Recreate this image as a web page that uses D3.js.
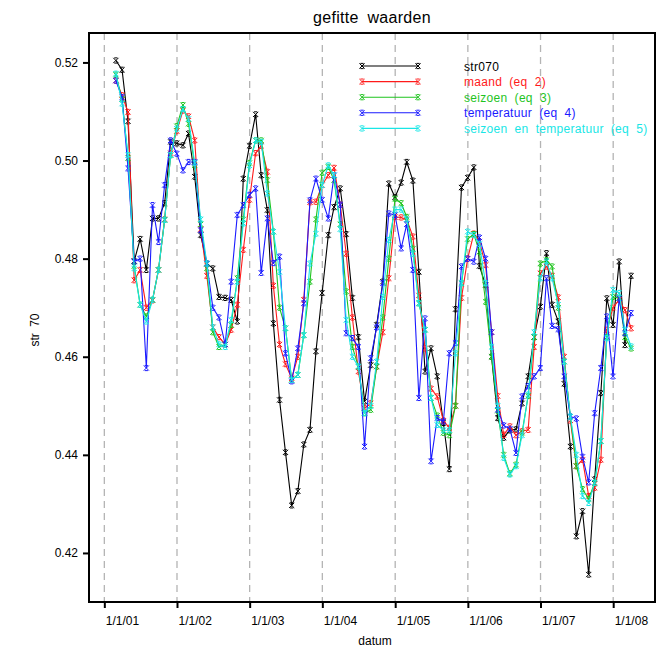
<!DOCTYPE html>
<html>
<head>
<meta charset="utf-8">
<script src="https://cdn.jsdelivr.net/npm/d3@7"></script>
<style>
    body { margin: 0; background: #fff; }
    svg { display: block; font-family: "Liberation Sans", Arial, sans-serif; }
</style>
</head>
<body>
<svg id="chart" width="659" height="653"></svg>
<script>
// Monthly values (end of month), Feb 2001 .. Mar 2008
const firstMonth = new Date(2001, 2, 1), // month after the first value
    lastMonth = new Date(2008, 4, 1);

const str070 = [
    .5204, .5185, .5080, .4795, .4840, .4777, .4882, .4882, .4913, .5038, .5035,
    .5031, .5055, .4967, .4848, .4790, .4780, .4722, .4720, .4716, .4672, .4963, .5030,
    .5094, .4970, .4899, .4668, .4512, .4405, .4297, .4326, .4421, .4451, .4611, .4730,
    .4848, .4905, .4943, .4850, .4720, .4640, .4509, .4583, .4665, .4753, .4953, .4925,
    .4955, .4997, .4959, .4773, .4570, .4617, .4560, .4465, .4371, .4697, .4945, .4965,
    .4986, .4785, .4746, .4600, .4475, .4435, .4450, .4452, .4505, .4560, .4640, .4702,
    .4811, .4706, .4672, .4545, .4417, .4234, .4285, .4156, .4350, .4526, .4719, .4665,
    .4794, .4624, .4765
];
const maand = [
    .5163, .5133, .5099, .4756, .4777, .4700, .4715, .4777, .4880, .5015, .5060,
    .5102, .5090, .5041, .4860, .4765, .4660, .4640, .4625, .4655, .4706, .4818, .4920,
    .5015, .5030, .4977, .4745, .4625, .4585, .4556, .4600, .4716, .4915, .4916, .4950,
    .4970, .4985, .4910, .4810, .4680, .4570, .4495, .4505, .4580, .4650, .4760, .4885,
    .4884, .4880, .4845, .4725, .4617, .4535, .4519, .4470, .4455, .4500, .4720, .4800,
    .4851, .4835, .4787, .4650, .4520, .4441, .4458, .4440, .4448, .4451, .4620, .4770,
    .4784, .4765, .4721, .4600, .4470, .4377, .4390, .4316, .4333, .4390, .4655, .4700,
    .4716, .4695, .4658
];
const seizoen = [
    .5175, .5125, .5005, .4785, .4706, .4682, .4716, .4777, .4879, .5011, .5070,
    .5113, .5075, .4990, .4870, .4780, .4650, .4620, .4625, .4665, .4760, .4880, .4995,
    .5041, .5041, .4960, .4855, .4700, .4658, .4553, .4563, .4644, .4753, .4880, .4975,
    .4987, .4960, .4870, .4733, .4620, .4580, .4485, .4492, .4580, .4680, .4800, .4922,
    .4913, .4885, .4820, .4709, .4655, .4516, .4480, .4445, .4440, .4500, .4750, .4840,
    .4850, .4814, .4712, .4600, .4490, .4400, .4362, .4380, .4445, .4520, .4640, .4790,
    .4797, .4784, .4700, .4590, .4478, .4377, .4330, .4310, .4343, .4428, .4640, .4722,
    .4720, .4640, .4617
];
const temperatuur = [
    .5163, .5129, .4984, .4794, .4800, .4577, .4909, .4834, .4950, .5041, .5014,
    .4980, .4997, .4997, .4858, .4790, .4700, .4680, .4625, .4753, .4889, .4909, .4930,
    .4943, .4771, .4882, .4791, .4804, .4607, .4550, .4617, .4709, .4919, .4963, .4920,
    .4882, .4970, .4910, .4648, .4638, .4620, .4417, .4597, .4660, .4750, .4892, .4889,
    .4821, .4870, .4777, .4516, .4678, .4387, .4475, .4468, .4607, .4628, .4784, .4800,
    .4794, .4843, .4800, .4650, .4492, .4460, .4453, .4404, .4519, .4540, .4560, .4577,
    .4760, .4663, .4656, .4560, .4478, .4474, .4396, .4344, .4485, .4577, .4682, .4560,
    .4719, .4648, .4689
];
const seizoenTemp = [
    .5177, .5116, .5011, .4780, .4706, .4672, .4716, .4777, .4879, .5011, .5065,
    .5105, .5085, .4995, .4880, .4790, .4660, .4625, .4620, .4675, .4753, .4872, .4990,
    .5041, .5038, .4933, .4855, .4773, .4658, .4553, .4563, .4644, .4790, .4851, .4950,
    .4990, .4970, .4860, .4675, .4600, .4580, .4485, .4500, .4590, .4722, .4838, .4900,
    .4900, .4880, .4810, .4709, .4655, .4516, .4461, .4450, .4450, .4607, .4750, .4855,
    .4848, .4830, .4750, .4620, .4500, .4394, .4360, .4377, .4440, .4523, .4650, .4760,
    .4794, .4760, .4706, .4590, .4478, .4400, .4316, .4302, .4343, .4428, .4638, .4736,
    .4730, .4655, .4621
];

const seriesNames = ['str070', 'maand (eq 2)', 'seizoen (eq 3)', 'temperatuur (eq 4)', 'seizoen en temperatuur (eq 5)'];
const seriesValues = [str070, maand, seizoen, temperatuur, seizoenTemp];
const seriesColors = ['#000000', '#ff1a1a', '#1fc41f', '#1a1aff', '#19e6e6'];

const yTicks = [0.42, 0.44, 0.46, 0.48, 0.50, 0.52];
const xTickYears = [2001, 2002, 2003, 2004, 2005, 2006, 2007, 2008];

/**
 * Visual configs.
 */
const plot = { left: 89, right: 655, top: 33, bottom: 602 };

// dates: last day of each month
const dates = d3.timeMonth.range(firstMonth, lastMonth).map(d => d3.timeDay.offset(d, -1));

const xScale = d3.scaleTime()
    .domain([new Date(2000, 9, 16), new Date(2008, 6, 29)])
    .range([plot.left, plot.right]);
const yScale = d3.scaleLinear()
    .domain([0.41, 0.526])
    .range([plot.bottom, plot.top]);

const svg = d3.select('#chart');

// title and axis titles
svg.append('text').attr('x', (plot.left + plot.right) / 2).attr('y', 23)
    .attr('text-anchor', 'middle').attr('font-size', 16).attr('word-spacing', 4)
    .attr('letter-spacing', 0.3).text('gefitte waarden');
svg.append('text').attr('x', (plot.left + plot.right) / 2 + 3).attr('y', 645)
    .attr('text-anchor', 'middle').attr('font-size', 12).text('datum');
svg.append('text').attr('transform', 'translate(39,330) rotate(-90)')
    .attr('text-anchor', 'middle').attr('font-size', 12).attr('word-spacing', 3).text('str 70');

// dashed year lines
const yearDates = xTickYears.map(y => new Date(y, 0, 1));
svg.append('g').selectAll('line').data(yearDates).enter().append('line')
    .attr('x1', d => xScale(d)).attr('x2', d => xScale(d))
    .attr('y1', plot.top).attr('y2', plot.bottom)
    .attr('stroke', '#b4b4b4').attr('stroke-width', 1.3).attr('stroke-dasharray', '7,5');

// axes
const yAxis = d3.axisLeft(yScale).tickValues(yTicks).tickFormat(d3.format('.2f')).tickSize(6).tickPadding(5);
const gy = svg.append('g').attr('transform', 'translate(' + plot.left + ',0)').call(yAxis);
const xAxis = d3.axisBottom(xScale).tickValues(yearDates).tickFormat(d3.timeFormat('%-m/%-d/%y')).tickSize(6).tickPadding(5);
const gx = svg.append('g').attr('transform', 'translate(0,' + plot.bottom + ')').call(xAxis);
[gx, gy].forEach(g => {
    g.select('.domain').remove();
    g.selectAll('line').attr('stroke', '#000').attr('stroke-width', 2);
    g.selectAll('text').attr('font-size', 12).attr('fill', '#000')
        .attr('font-family', '"Liberation Sans", Arial, sans-serif');
});
gx.selectAll('text').attr('text-anchor', 'start').attr('dx', 1).attr('dy', '1em');

// frame
svg.append('rect').attr('x', plot.left).attr('y', plot.top)
    .attr('width', plot.right - plot.left).attr('height', plot.bottom - plot.top)
    .attr('fill', 'none').attr('stroke', '#000').attr('stroke-width', 2);

// series
const markerPath = 'M-2.6,-2.6L2.6,2.6M-2.6,2.6L2.6,-2.6M-1.6,-2.6L1.6,-2.6M-1.6,2.6L1.6,2.6';
const line = d3.line().x(d => xScale(d.date)).y(d => yScale(d.value));

seriesValues.forEach((vals, i) => {
    const pts = vals.map((v, j) => ({ date: dates[j], value: v }));
    const g = svg.append('g').attr('class', 'series');
    g.append('path').datum(pts).attr('d', line)
        .attr('fill', 'none').attr('stroke', seriesColors[i]).attr('stroke-width', 1.1);
    g.selectAll('path.mk').data(pts).enter().append('path').attr('class', 'mk')
        .attr('d', markerPath)
        .attr('transform', d => 'translate(' + xScale(d.date) + ',' + yScale(d.value) + ')')
        .attr('stroke', seriesColors[i]).attr('stroke-width', 1).attr('fill', 'none');
});

// legend
const legend = svg.append('g').attr('class', 'legend');
seriesNames.forEach((name, i) => {
    const y = 66 + i * 15.6;
    legend.append('line').attr('x1', 362).attr('x2', 418).attr('y1', y).attr('y2', y)
        .attr('stroke', seriesColors[i]).attr('stroke-width', 1.1);
    [362, 418].forEach(x => legend.append('path').attr('d', markerPath)
        .attr('transform', 'translate(' + x + ',' + y + ')')
        .attr('stroke', seriesColors[i]).attr('fill', 'none'));
    legend.append('text').attr('x', 464).attr('y', y + 4.5).attr('font-size', 12)
        .attr('letter-spacing', 0.3).attr('word-spacing', 3.5)
        .attr('fill', seriesColors[i]).text(name);
});
</script>
</body>
</html>
